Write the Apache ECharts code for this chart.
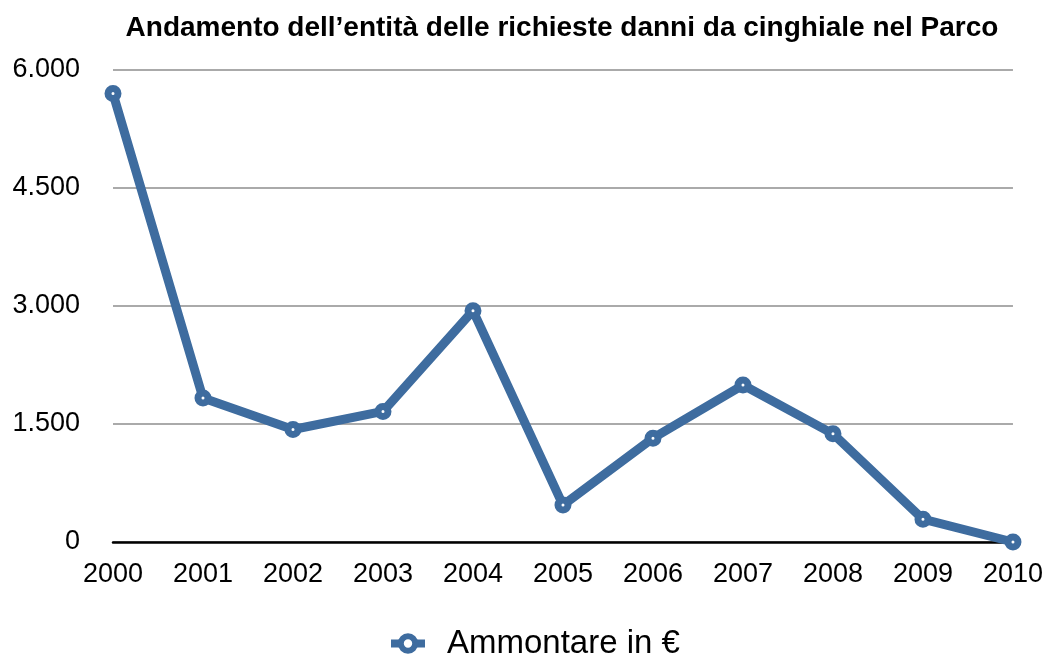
<!DOCTYPE html>
<html>
<head>
<meta charset="utf-8">
<script src="https://cdn.jsdelivr.net/npm/echarts@6/dist/echarts.min.js"></script>
<style>
  html, body { margin: 0; padding: 0; background: #fff; }
  #chart { width: 1046px; height: 657px; }
</style>
</head>
<body>
<div id="chart"></div>
<script>
// dati
const years = ['2000', '2001', '2002', '2003', '2004', '2005', '2006', '2007', '2008', '2009', '2010']
const ammontare = [5700, 1830, 1430, 1660, 2940, 470, 1320, 1995, 1375, 290, 0]
const seriesName = 'Ammontare in €'
const titolo = 'Andamento dell\u2019entità delle richieste danni da cinghiale nel Parco'

const blu = '#3e6c9f'
const font = '"Liberation Sans", Arial, Helvetica, sans-serif'

const chart = echarts.init(document.getElementById('chart'))

chart.setOption({
  animation: false,
  textStyle: { fontFamily: font },
  title: {
    text: titolo,
    left: 557,
    top: 9,
    textAlign: 'center',
    textStyle: { fontFamily: font, fontSize: 28, fontWeight: 'bold', color: '#000' }
  },
  legend: {
    data: [seriesName],
    bottom: -8,
    left: 382,
    itemWidth: 34,
    itemHeight: 18,
    lineStyle: { width: 8 },
    itemStyle: { color: '#fff', borderColor: blu, borderWidth: 6 },
    textStyle: { fontFamily: font, fontSize: 33, color: '#000', padding: [0, 0, 0, 17] }
  },
  grid: { left: 113, right: 33, top: 70, bottom: 115 },
  xAxis: {
    type: 'category',
    data: years,
    boundaryGap: false,
    axisLine: { lineStyle: { color: '#000', width: 2.5 } },
    axisTick: { show: false },
    axisLabel: { color: '#000', fontSize: 27, margin: 19 }
  },
  yAxis: {
    type: 'value',
    min: 0,
    max: 6000,
    interval: 1500,
    axisLine: { show: false },
    axisTick: { show: false },
    splitLine: { lineStyle: { color: '#aaaaaa', width: 2 } },
    axisLabel: {
      color: '#000',
      fontSize: 27,
      margin: 33,
      formatter: v => v.toLocaleString('de-DE')
    }
  },
  series: [{
    name: seriesName,
    type: 'line',
    data: ammontare,
    symbol: 'circle',
    symbolSize: 10,
    lineStyle: { color: blu, width: 9 },
    itemStyle: { color: '#fff', borderColor: blu, borderWidth: 7 }
  }]
})
</script>
</body>
</html>
